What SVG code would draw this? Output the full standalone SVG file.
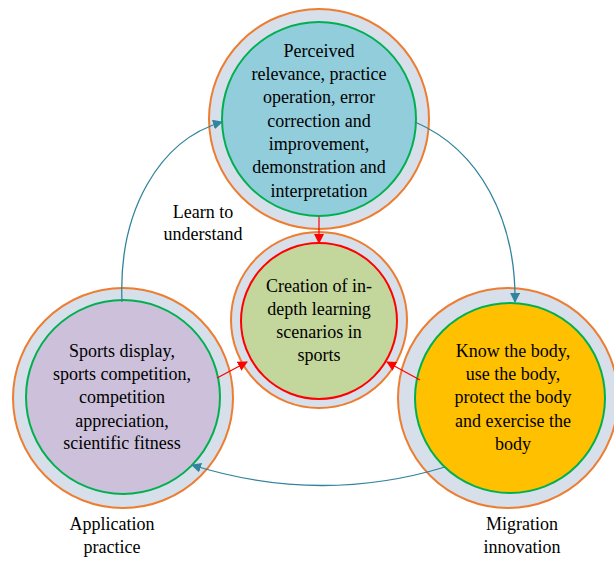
<svg xmlns="http://www.w3.org/2000/svg" width="614" height="561" viewBox="0 0 614 561">
<style>
.outer{fill:#D6DFEA;stroke:#ED7D31;stroke-width:2}
.ing{stroke:#00B050;stroke-width:2}
.inr{stroke:#FF0000;stroke-width:2}
.t{font-family:"Liberation Serif","DejaVu Serif","Times New Roman",serif;font-size:18px;fill:#000;text-anchor:middle}
.teal{fill:none;stroke:#31849B;stroke-width:1.3}
.red{fill:none;stroke:#FF0000;stroke-width:1.2}
</style>
<defs>
<marker id="at" viewBox="0 0 10 10" refX="9" refY="5" markerWidth="10" markerHeight="10" markerUnits="userSpaceOnUse" orient="auto"><path d="M0,0 L10,5 L0,10 z" fill="#31849B"/></marker>
<marker id="ar" viewBox="0 0 10 10" refX="9" refY="5" markerWidth="10" markerHeight="10" markerUnits="userSpaceOnUse" orient="auto"><path d="M0,0 L10,5 L0,10 z" fill="#FF0000"/></marker>
</defs>
<rect width="614" height="561" fill="#fff"/>
<g id="top">
<circle class="outer" cx="319" cy="119" r="110"/>
<circle class="ing" cx="319" cy="119" r="97" fill="#92CDDC"/>
<text class="t" x="319" y="57">Perceived</text>
<text class="t" x="319" y="80">relevance, practice</text>
<text class="t" x="319" y="103">operation, error</text>
<text class="t" x="319" y="127">correction and</text>
<text class="t" x="319" y="150">improvement,</text>
<text class="t" x="319" y="173">demonstration and</text>
<text class="t" x="319" y="197">interpretation</text>
</g>
<g id="center">
<circle class="outer" cx="319" cy="320" r="88"/>
<circle class="inr" cx="319" cy="321" r="78" fill="#C3D69B"/>
<text class="t" x="319" y="292">Creation of in-</text>
<text class="t" x="319" y="315">depth learning</text>
<text class="t" x="319" y="338">scenarios in</text>
<text class="t" x="319" y="361">sports</text>
</g>
<g id="left">
<circle class="outer" cx="123" cy="398" r="110"/>
<circle class="ing" cx="123" cy="397" r="97" fill="#CCC0DA"/>
<text class="t" x="122" y="357">Sports display,</text>
<text class="t" x="122" y="380">sports competition,</text>
<text class="t" x="122" y="403">competition</text>
<text class="t" x="122" y="427">appreciation,</text>
<text class="t" x="122" y="449">scientific fitness</text>
</g>
<g id="right">
<circle class="outer" cx="508" cy="398" r="110"/>
<circle class="ing" cx="510" cy="398" r="95" fill="#FFC000"/>
<text class="t" x="513" y="357">Know the body,</text>
<text class="t" x="513" y="380">use the body,</text>
<text class="t" x="513" y="403">protect the body</text>
<text class="t" x="513" y="427">and exercise the</text>
<text class="t" x="513" y="450">body</text>
</g>
<g id="connectors">
<path class="red" d="M319,217 L319,243" marker-end="url(#ar)"/>
<path class="red" d="M217,378 L247,362" marker-end="url(#ar)"/>
<path class="red" d="M420,380 L387,362" marker-end="url(#ar)"/>
<path class="teal" d="M122,302 C118,210 160,140 222,122" marker-end="url(#at)"/>
<path class="teal" d="M415,122 C480,150 516,220 515,302" marker-end="url(#at)"/>
<path class="teal" d="M445,467 Q320,505 192,465" marker-end="url(#at)"/>
</g>
<g id="labels">
<text class="t" x="203" y="218">Learn to</text>
<text class="t" x="203" y="240">understand</text>
<text class="t" x="112" y="530">Application</text>
<text class="t" x="112" y="553">practice</text>
<text class="t" x="522" y="530">Migration</text>
<text class="t" x="522" y="553">innovation</text>
</g>
</svg>
